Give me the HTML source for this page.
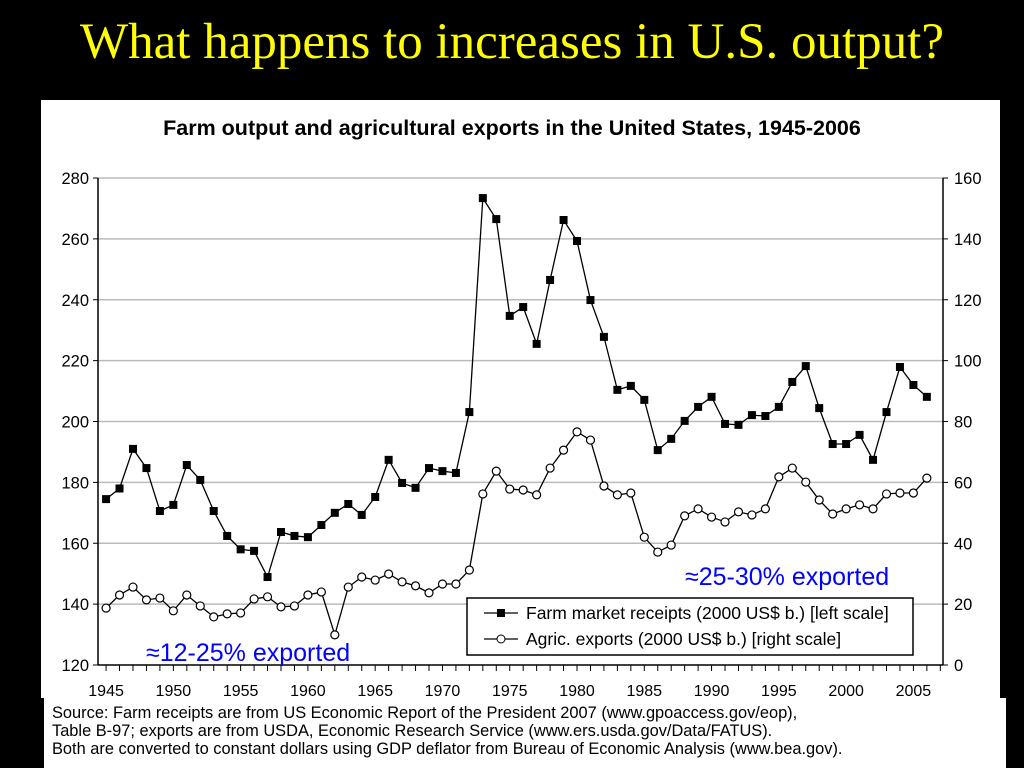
<!DOCTYPE html>
<html><head><meta charset="utf-8"><style>
body{margin:0;width:1024px;height:768px;background:#000;overflow:hidden;position:relative;font-family:"Liberation Sans",sans-serif}
#title{position:absolute;left:0;top:13px;width:1024px;text-align:center;color:#ff0;font-family:"Liberation Serif",serif;font-size:51px}
#panel{position:absolute;left:41px;top:100px;width:959px;height:598px;background:#fff}
#foot{position:absolute;left:44px;top:698px;width:962px;height:70px;background:#fff;font-size:16.4px;line-height:18px;color:#000;padding:6px 0 0 8px;box-sizing:border-box}
svg{position:absolute;left:0;top:0}
</style></head><body>
<div id="title">What happens to increases in U.S. output?</div>
<div id="panel"></div>
<div id="foot">Source: Farm receipts are from US Economic Report of the President 2007 (www.gpoaccess.gov/eop),<br>Table B-97; exports are from USDA, Economic Research Service (www.ers.usda.gov/Data/FATUS).<br>Both are converted to constant dollars using GDP deflator from Bureau of Economic Analysis (www.bea.gov).</div>
<svg id="chart" width="1024" height="768"></svg>
<script>
const years=[];for(let y=1945;y<=2006;y++)years.push(y);
const farmReceipts=[174.5,178,191,184.7,170.6,172.6,185.7,180.8,170.6,162.4,158,157.5,148.9,163.7,162.4,162,166,170,172.9,169.3,175.2,187.4,179.8,178.2,184.7,183.7,183.1,203.1,273.4,266.5,234.7,237.6,225.5,246.5,266.2,259.3,239.9,227.8,210.4,211.7,207.1,190.6,194.3,200.2,204.8,208.1,199.2,198.9,202.1,201.8,204.8,213,218.2,204.4,192.6,192.6,195.6,187.4,203.1,217.9,212,208.1];
const agExports=[18.7,23,25.6,21.4,22,17.8,23,19.4,15.8,16.8,17.1,21.7,22.4,19.1,19.4,23,24,9.9,25.6,28.9,27.9,29.9,27.3,26,23.7,26.6,26.6,31.2,56.2,63.7,57.8,57.5,55.9,64.7,70.6,76.6,73.9,58.8,55.9,56.5,42,37.1,39.4,49,51.3,48.6,47,50.3,49.3,51.3,61.8,64.7,60.1,54.2,49.6,51.3,52.6,51.3,56.2,56.5,56.5,61.4];
const leftTicks=[120,140,160,180,200,220,240,260,280];
const rightTicks=[0,20,40,60,80,100,120,140,160];
const yearLabels=[1945,1950,1955,1960,1965,1970,1975,1980,1985,1990,1995,2000,2005];
const X0=98,X1=943,Y0=665,Y1=178;
const xs=y=>X0+(y-1944.4)*(X1-X0)/(2007.2-1944.4);
const yl=v=>Y0-(v-120)*(Y0-Y1)/160;
const yr=v=>Y0-v*(Y0-Y1)/160;
const svg=document.getElementById('chart');const NS='http://www.w3.org/2000/svg';
function mk(t,a,p){const e=document.createElementNS(NS,t);for(const k in a)e.setAttribute(k,a[k]);(p||svg).appendChild(e);return e;}
let t=mk('text',{x:512,y:135,'text-anchor':'middle','font-size':21.5,'font-weight':'bold'});t.textContent='Farm output and agricultural exports in the United States, 1945-2006';


leftTicks.forEach(v=>{const y=yl(v);
 if(v>120){const g=mk('line',{x1:X0,x2:X1,y1:y,y2:y,stroke:'#bbb','stroke-width':1.5});}
 mk('line',{x1:X0-5,x2:X0,y1:y,y2:y,stroke:'#000'});
 const l=mk('text',{x:X0-9,y:y+6,'text-anchor':'end','font-size':16.5});l.textContent=v;
 
 });
rightTicks.forEach(v=>{const y=yr(v);
 mk('line',{x1:X1,x2:X1+5,y1:y,y2:y,stroke:'#000'});
 const l=mk('text',{x:X1+11,y:y+6,'font-size':16.5});l.textContent=v;
 
 });
mk('line',{x1:X0,x2:X0,y1:Y1,y2:Y0,stroke:'#000','stroke-width':1.5});
mk('line',{x1:X1,x2:X1,y1:Y1,y2:Y0,stroke:'#000','stroke-width':1.5});
mk('line',{x1:X0,x2:X1,y1:Y0,y2:Y0,stroke:'#000','stroke-width':1.5});
for(let y=1945;y<=2007;y++){mk('line',{x1:xs(y),x2:xs(y),y1:Y0,y2:Y0+6,stroke:'#000'});}
yearLabels.forEach(y=>{const l=mk('text',{x:xs(y),y:Y0+31,'text-anchor':'middle','font-size':16});l.textContent=y;
 
 });
const p1=mk('polyline',{points:years.map((y,i)=>xs(y)+','+yl(farmReceipts[i])).join(' '),fill:'none',stroke:'#000','stroke-width':1.3});


const p2=mk('polyline',{points:years.map((y,i)=>xs(y)+','+yr(agExports[i])).join(' '),fill:'none',stroke:'#000','stroke-width':1.3});


years.forEach((y,i)=>{const r=mk('rect',{x:xs(y)-4,y:yl(farmReceipts[i])-4,width:8,height:8,fill:'#000'});
 
 
 const c=mk('circle',{cx:xs(y),cy:yr(agExports[i]),r:4,fill:'#fff',stroke:'#000','stroke-width':1.2});
 
 });
const lg=mk('g',{});
mk('rect',{x:467,y:598,width:446,height:57,fill:'#fff',stroke:'#000','stroke-width':1.5},lg);
mk('line',{x1:484,x2:518,y1:613,y2:613,stroke:'#000','stroke-width':1.3},lg);mk('rect',{x:497,y:609,width:8,height:8},lg);
mk('line',{x1:484,x2:518,y1:639,y2:639,stroke:'#000','stroke-width':1.3},lg);mk('circle',{cx:501,cy:639,r:4,fill:'#fff',stroke:'#000'},lg);
let a=mk('text',{x:526,y:619,'font-size':17.5},lg);a.textContent='Farm market receipts (2000 US$ b.) [left scale]';
a=mk('text',{x:526,y:645,'font-size':17.5},lg);a.textContent='Agric. exports (2000 US$ b.) [right scale]';
a=mk('text',{x:685,y:585,'font-size':25,fill:'#00f'});a.textContent='≈25-30% exported';

a=mk('text',{x:146,y:661,'font-size':25,fill:'#00f'});a.textContent='≈12-25% exported';

</script>
</body></html>
